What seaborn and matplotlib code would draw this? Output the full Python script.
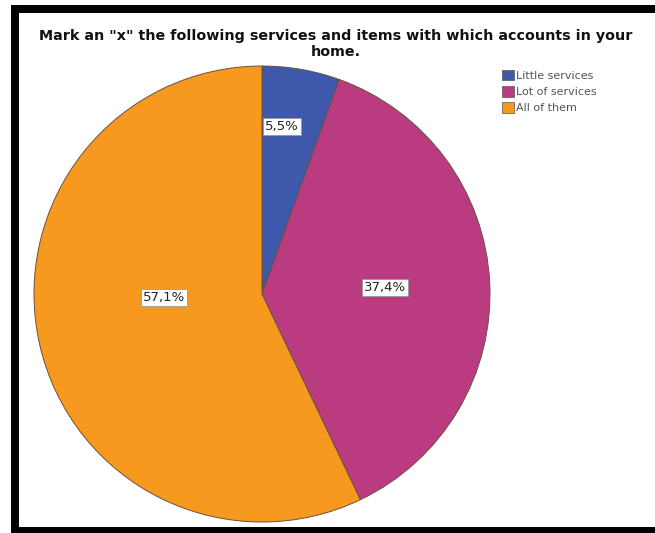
import matplotlib
matplotlib.use("Agg")
import matplotlib.pyplot as plt
from matplotlib.patches import Rectangle, Patch
import numpy as np
import seaborn as sns

sns.set_theme(style="white")
plt.rcParams['font.family'] = ['DejaVu Sans']

categories = ["Little services", "Lot of services", "All of them"]
percentages = [5.5, 37.4, 57.1]
labels = ["5,5%", "37,4%", "57,1%"]
label_dist = [0.74, 0.54, 0.43]
label_turn = [3, 0, -11]  # degrees off each wedge's mid-angle
colors = sns.color_palette(["#3E58AC", "#BA3B7F", "#F7991F"])

title = 'Mark an "x" the following services and items with which accounts in your\nhome.'

W, H = 655, 533
fig = plt.figure(figsize=(W / 100, H / 100), dpi=100)
fig.patch.set_facecolor("white")

# square axes holding the pie
cx, cy, r = 262, 294, 228
ax = fig.add_axes([(cx - r) / W, (H - cy - r) / H, 2 * r / W, 2 * r / H])
wedges, _ = ax.pie(percentages, colors=colors, startangle=90, counterclock=False,
                   radius=1.0, wedgeprops=dict(edgecolor="#6a5040", linewidth=0.7))
ax.set_xlim(-1.0, 1.0)
ax.set_ylim(-1.0, 1.0)
ax.set_aspect("equal")
ax.axis("off")

# percentage boxes placed inside each wedge
for w, txt, d, turn in zip(wedges, labels, label_dist, label_turn):
    ang = np.deg2rad((w.theta1 + w.theta2) / 2 + turn)
    ax.text(d * np.cos(ang), d * np.sin(ang), txt, ha="center", va="center",
            fontsize=9.5, color="#222222",
            bbox=dict(boxstyle="square,pad=0.15", facecolor="white",
                      edgecolor="#999999", linewidth=0.6))

fig.text(336 / W, 1 - 44 / H, title, ha="center", va="center", fontsize=10.3,
         fontweight="bold", color="#111111", linespacing=1.25)

handles = [Patch(facecolor=c, edgecolor="#555555", linewidth=0.5) for c in colors]
fig.legend(handles, categories, loc="upper left", bbox_to_anchor=(494 / W, 1 - 62 / H),
           frameon=False, fontsize=8, labelcolor="#555555", handlelength=1.1,
           handleheight=1.1, handletextpad=0.2, labelspacing=0.45, borderpad=0.2)

# black frame on left, top and bottom
for x0, y0, w, h in [(11, 5, 8, 528), (11, 5, W - 11, 8), (11, 527, W - 11, 6)]:
    fig.patches.append(Rectangle((x0 / W, 1 - (y0 + h) / H), w / W, h / H,
                                 transform=fig.transFigure, facecolor="black",
                                 edgecolor="none"))

fig.savefig("out.png", dpi=100)
